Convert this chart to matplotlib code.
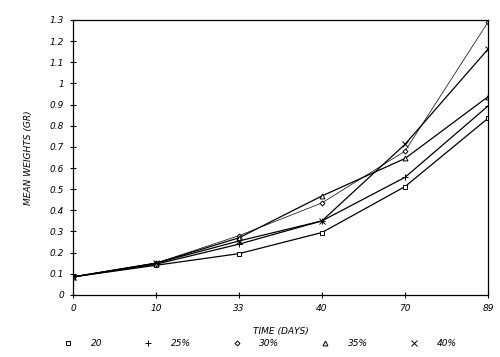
import matplotlib
matplotlib.use('Agg')
import matplotlib.pyplot as plt
from matplotlib.lines import Line2D

# data
days = ['0', '10', '33', '40', '70', '89']
w_20 = [0.085, 0.140, 0.195, 0.295, 0.512, 0.835]
w_25 = [0.085, 0.145, 0.240, 0.350, 0.556, 0.893]
w_30 = [0.085, 0.150, 0.280, 0.435, 0.680, 1.290]
w_35 = [0.085, 0.150, 0.270, 0.468, 0.645, 0.937]
w_40 = [0.085, 0.150, 0.255, 0.350, 0.712, 1.162]
series_labels = ['20', '25%', '30%', '35%', '40%']
yticks = [0, 0.1, 0.2, 0.3, 0.4, 0.5, 0.6, 0.7, 0.8, 0.9, 1, 1.1, 1.2, 1.3]

fig = plt.figure(figsize=(5, 3.57), dpi=100)
ax = fig.add_axes([0.146, 0.174, 0.83, 0.77])

x = range(len(days))
styles = [(w_20, 's', 3.5, 0.9), (w_25, '+', 5, 0.9), (w_30, 'D', 2.5, 0.5),
          (w_35, '^', 3.5, 0.9), (w_40, 'x', 4, 0.9)]
for vals, m, ms, lw in styles:
    ax.plot(x, vals, color='black', lw=lw, marker=m, ms=ms, mfc='white', mec='black', mew=0.7)

ax.set_xlim(0, len(days) - 1)
ax.set_ylim(0, 1.3)
ax.set_xticks(list(x))
ax.set_xticklabels(days, style='italic', fontsize=6.5)
ax.set_yticks(yticks)
ax.set_yticklabels(['{:g}'.format(v) for v in yticks], style='italic', fontsize=6.5)
ax.tick_params(direction='inout', length=5, width=0.8, pad=4)
for s in ax.spines.values():
    s.set_linewidth(0.9)

ax.set_xlabel("TIME (DAYS)", style='italic', fontsize=6.5, labelpad=10)
ax.set_ylabel('MEAN WEIGHTS (GR)', style='italic', fontsize=6.5, labelpad=12)

handles = [Line2D([], [], ls='none', marker=m, ms=ms, mfc='white', mec='black', color='black', mew=0.7)
           for _, m, ms, _ in styles]
fig.legend(handles, series_labels, loc='center', bbox_to_anchor=(0.52, 0.038), ncol=5,
           frameon=False, prop={'style': 'italic', 'size': 6.5},
           handletextpad=2.0, columnspacing=4.6, handlelength=1.0)

fig.savefig('out.png', dpi=100)
